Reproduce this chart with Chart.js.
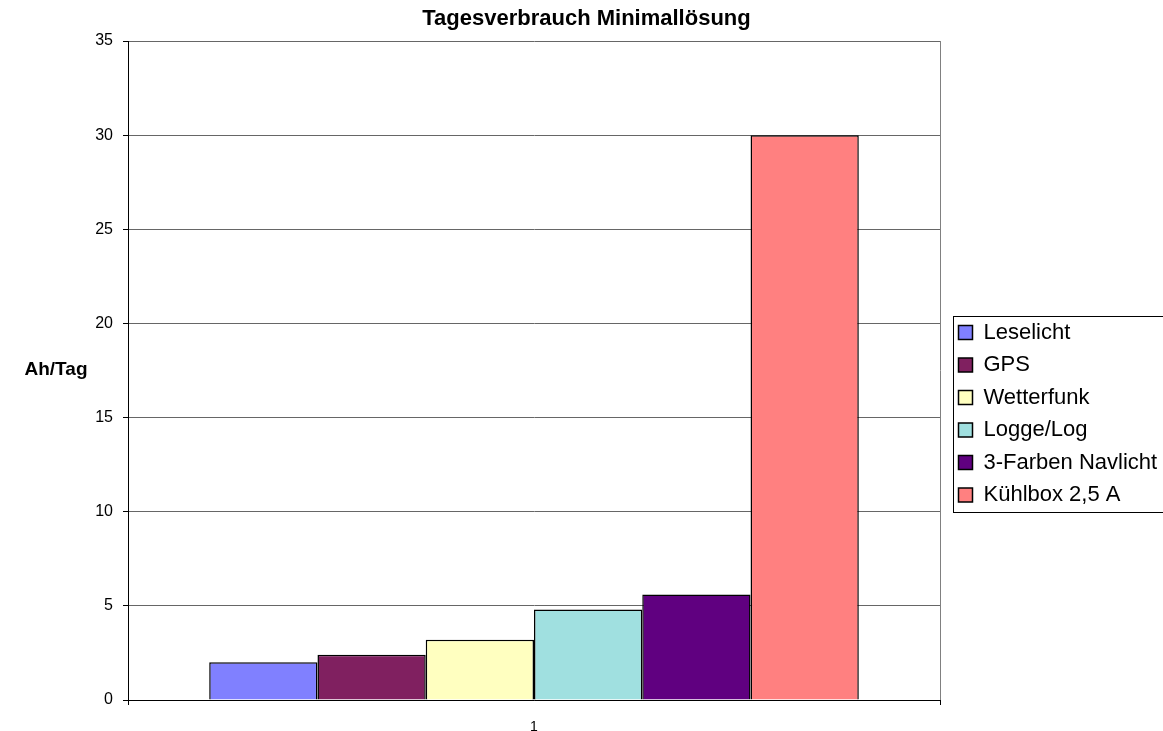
<!DOCTYPE html>
<html>
<head>
<meta charset="utf-8">
<script src="https://cdn.jsdelivr.net/npm/chart.js@4.4.1/dist/chart.umd.min.js"></script>
<style>
  html, body { margin: 0; padding: 0; background: #ffffff; }
  #wrap { width: 1163px; height: 731px; }
</style>
</head>
<body>
<div id="wrap"><canvas id="c" width="1163" height="731"></canvas></div>
<script>
const chartTitle = 'Tagesverbrauch Minimallösung';
const yAxisTitle = 'Ah/Tag';
const categories = ['1'];
const seriesNames = ['Leselicht', 'GPS', 'Wetterfunk', 'Logge/Log', '3-Farben Navlicht', 'Kühlbox 2,5 A'];
const seriesValues = [2.0, 2.4, 3.2, 4.8, 5.6, 30.0];
const seriesColors = ['#8080FF', '#802060', '#FFFFC0', '#A0E0E0', '#600080', '#FF8080'];
const yMin = 0, yMax = 35, yStep = 5;

const FONT = 'Arial, "Liberation Sans", sans-serif';

const datasets = seriesNames.map((name, i) => ({
  label: name,
  data: [seriesValues[i]],
  backgroundColor: seriesColors[i],
  borderColor: '#000000',
  borderWidth: 1.5,
  categoryPercentage: 0.8,
  barPercentage: 1.0
}));

const decorPlugin = {
  id: 'decor',
  afterInit(chart) {
    const lg = chart.legend;
    if (lg) {
      const origFit = lg.fit.bind(lg);
      lg.fit = function () { origFit(); this.width = 223; };
    }
  },
  afterLayout(chart) {
    const lg = chart.legend;
    if (lg) { lg.left += 8; lg.right += 8; lg.top += 311; lg.bottom += 311; }
    const tb = chart.titleBlock;
    if (tb) { tb.left += 5; tb.right += 5; }
  },
  afterDraw(chart) {
    const ctx = chart.ctx;
    ctx.save();
    // horizontal y-axis title
    ctx.font = 'bold 19px ' + FONT;
    ctx.fillStyle = '#000';
    ctx.textAlign = 'center';
    ctx.textBaseline = 'middle';
    ctx.fillText(yAxisTitle, 56, 370);
    // legend border
    const lg = chart.legend;
    if (lg && lg.legendHitBoxes && lg.legendHitBoxes.length) {
      const hb = lg.legendHitBoxes;
      const first = hb[0], last = hb[hb.length - 1];
      ctx.strokeStyle = '#000';
      ctx.lineWidth = 1;
      const x0 = Math.round(first.left) - 6 + 0.5;
      const y0 = Math.round(first.top) - 6 + 0.5;
      const y1 = Math.round(last.top + last.height) + 6 + 0.5;
      ctx.strokeRect(x0, y0, chart.width - x0 + 5, y1 - y0);
    }
    ctx.restore();
  }
};

new Chart(document.getElementById('c'), {
  type: 'bar',
  data: { labels: categories, datasets },
  plugins: [decorPlugin],
  options: {
    responsive: false,
    animation: false,
    devicePixelRatio: 1,
    layout: { padding: { left: 0, right: 0, top: 0, bottom: 0 } },
    plugins: {
      title: {
        display: true,
        text: chartTitle,
        color: '#000',
        font: { family: FONT, size: 22, weight: 'bold' },
        padding: { top: 6, bottom: 8.6 }
      },
      legend: {
        display: true,
        position: 'right',
        align: 'start',
        labels: {
          color: '#000',
          font: { family: FONT, size: 22 },
          boxWidth: 14,
          boxHeight: 14,
          padding: 10.5
        }
      },
      tooltip: { enabled: false }
    },
    scales: {
      x: {
        afterFit(scale) { scale.height = 31; },
        grid: {
          display: true,
          offset: true,
          drawOnChartArea: true,
          drawTicks: true,
          tickLength: 5,
          color: '#808080',
          tickColor: '#000',
          lineWidth: 1
        },
        border: { display: true, color: '#000', width: 1 },
        ticks: { color: '#000', font: { family: FONT, size: 14 }, padding: 14 }
      },
      y: {
        min: yMin,
        max: yMax,
        afterFit(scale) { scale.width = 128; },
        grid: {
          color: '#666666',
          lineWidth: 1,
          drawTicks: true,
          tickLength: 5,
          tickColor: '#000'
        },
        border: { display: true, color: '#000', width: 1 },
        ticks: {
          stepSize: yStep,
          color: '#000',
          font: { family: FONT, size: 16 },
          padding: 10
        }
      }
    }
  }
});
</script>
</body>
</html>
